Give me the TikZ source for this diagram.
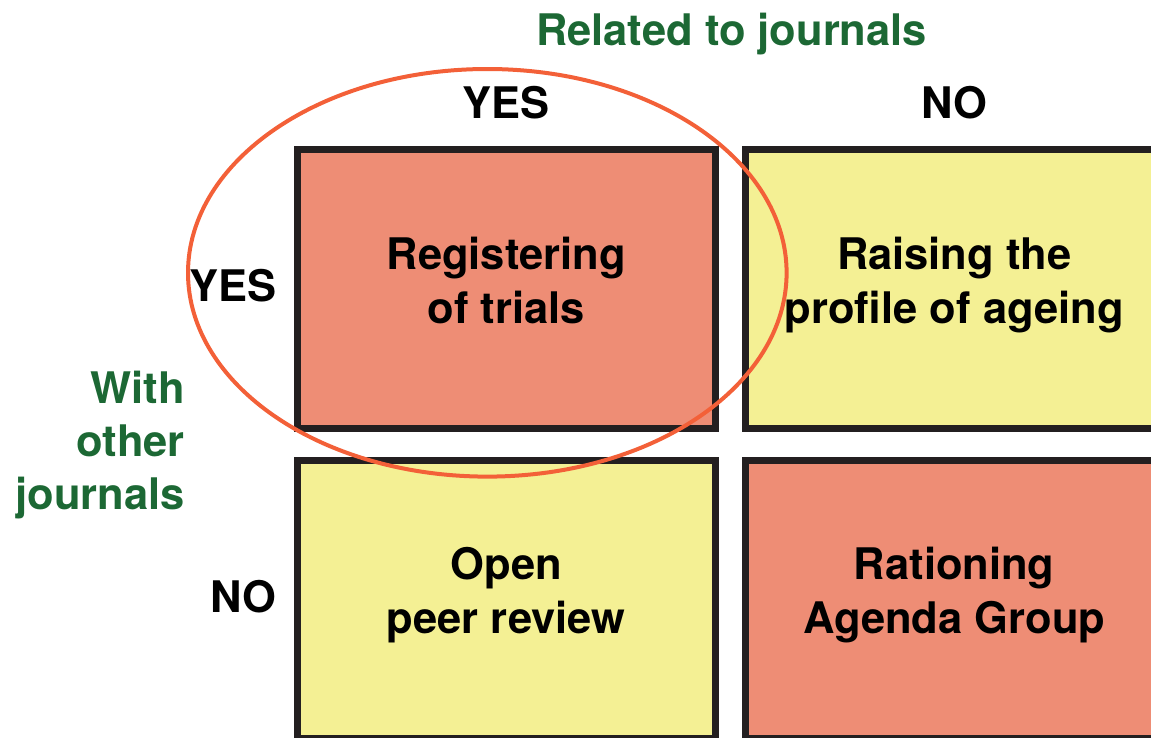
\documentclass[tikz,border=0pt]{standalone}
\usepackage{fontspec}
\setmainfont{TeX Gyre Heros}
\usepackage{tikz}
\usepackage{xcolor}
\usetikzlibrary{positioning}

\definecolor{salmon}{RGB}{238,141,117}
\definecolor{paleyellow}{RGB}{244,240,148}
\definecolor{darkgreen}{RGB}{28,104,52}
\definecolor{ringred}{RGB}{243,96,56}
\definecolor{boxline}{RGB}{35,31,32}

\newcommand{\bigfont}{\fontsize{43.5}{54}\selectfont\bfseries}
\newcommand{\sidefont}{\fontsize{43.5}{53}\selectfont\bfseries}

\begin{document}
\begin{tikzpicture}[x=1pt, y=-1pt,
  cell/.style={draw=boxline, line width=7pt, minimum width=417.5pt,
    minimum height=278.5pt, align=center, font=\bigfont, inner sep=0pt,
    execute at begin node={\rule{0pt}{36pt}},
    execute at end node={\rule[-17.5pt]{0pt}{17.5pt}}},
  lbl/.style={font=\bigfont, inner sep=0pt},
  heading/.style={font=\sidefont, inner sep=0pt, text=darkgreen}]

\useasboundingbox (0,0) rectangle (1151,737);
\clip (0,0) rectangle (1151,737);

\node[cell, fill=salmon] (reg) at (506.25,288.75) {Registering\\of trials};
\node[cell, fill=paleyellow] (age) at (954.25,288.75) {Raising the\\profile of ageing};
\node[cell, fill=paleyellow] (peer) at (506.25,599.25) {Open\\peer review};
\node[cell, fill=salmon] (ration) at (954.25,599.25) {Rationing\\Agenda Group};

\node[heading, anchor=base] (related) at (731.5,45) {Related to journals};
\node[heading, anchor=north east, align=right] (other) at (185,371.2) {With\\other\\journals};

\node[lbl, anchor=base] (yestop) at (506.25,118) {YES};
\node[lbl, anchor=base] (notop) at (954.25,118) {NO};
\node[lbl, anchor=base east] (yesside) at (276.5,301) {YES};
\node[lbl, anchor=base east] (noside) at (276.5,612) {NO};

\draw[ringred, line width=4pt] (487.3,272.8) ellipse [x radius=299.3, y radius=203.8];

\end{tikzpicture}
\end{document}
